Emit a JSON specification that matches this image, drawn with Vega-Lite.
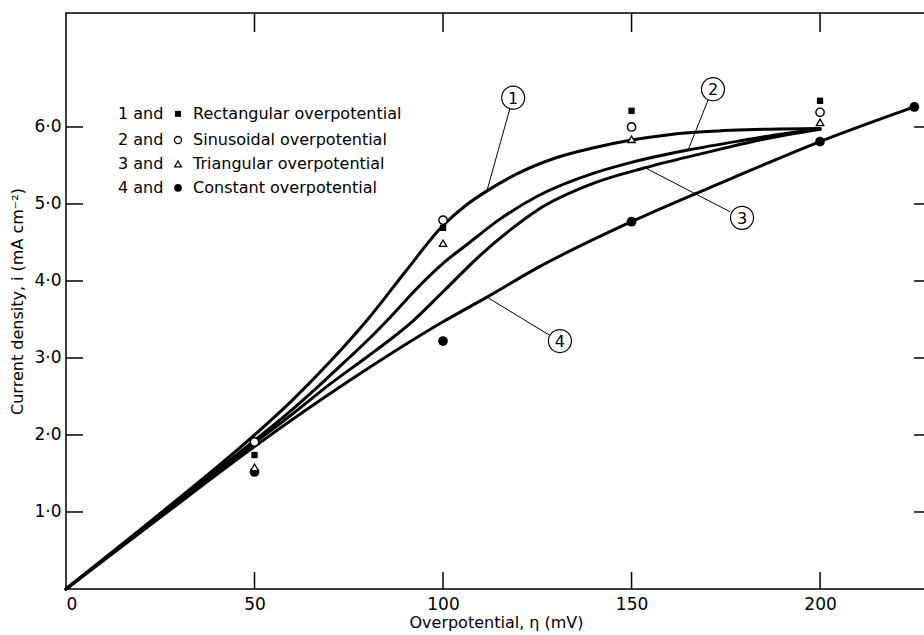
{
  "$schema": "https://vega.github.io/schema/vega-lite/v6.json",
  "width": 860,
  "height": 576,
  "autosize": {"type": "none"},
  "padding": {"left": 66, "top": 13, "right": 0, "bottom": 46},
  "background": "white",
  "config": {
    "view": {"stroke": "black", "strokeWidth": 1.5},
    "font": "DejaVu Sans",
    "text": {"font": "DejaVu Sans", "color": "black"},
    "axis": {"grid": false, "domain": false, "ticks": false, "labelColor": "black", "titleColor": "black", "labelFont": "DejaVu Sans", "titleFont": "DejaVu Sans", "titleFontWeight": "normal"}
  },
  "datasets": {
    "curves": [
      {"c": "1", "eta": 0, "i": 0}, {"c": "1", "eta": 25, "i": 0.98}, {"c": "1", "eta": 50, "i": 2.0}, {"c": "1", "eta": 60, "i": 2.45}, {"c": "1", "eta": 70, "i": 2.95}, {"c": "1", "eta": 80, "i": 3.5}, {"c": "1", "eta": 90, "i": 4.12}, {"c": "1", "eta": 100, "i": 4.72}, {"c": "1", "eta": 106, "i": 4.98}, {"c": "1", "eta": 112, "i": 5.18}, {"c": "1", "eta": 120, "i": 5.4}, {"c": "1", "eta": 130, "i": 5.6}, {"c": "1", "eta": 140, "i": 5.73}, {"c": "1", "eta": 150, "i": 5.83}, {"c": "1", "eta": 160, "i": 5.9}, {"c": "1", "eta": 170, "i": 5.94}, {"c": "1", "eta": 185, "i": 5.97}, {"c": "1", "eta": 200, "i": 5.98},
      {"c": "2", "eta": 0, "i": 0}, {"c": "2", "eta": 25, "i": 0.97}, {"c": "2", "eta": 50, "i": 1.93}, {"c": "2", "eta": 60, "i": 2.33}, {"c": "2", "eta": 68, "i": 2.68}, {"c": "2", "eta": 75, "i": 3.0}, {"c": "2", "eta": 80, "i": 3.23}, {"c": "2", "eta": 86, "i": 3.53}, {"c": "2", "eta": 93, "i": 3.9}, {"c": "2", "eta": 101, "i": 4.27}, {"c": "2", "eta": 106, "i": 4.46}, {"c": "2", "eta": 115, "i": 4.8}, {"c": "2", "eta": 125, "i": 5.1}, {"c": "2", "eta": 140, "i": 5.4}, {"c": "2", "eta": 150, "i": 5.54}, {"c": "2", "eta": 165, "i": 5.7}, {"c": "2", "eta": 180, "i": 5.83}, {"c": "2", "eta": 190, "i": 5.91}, {"c": "2", "eta": 200, "i": 5.97},
      {"c": "3", "eta": 0, "i": 0}, {"c": "3", "eta": 25, "i": 0.96}, {"c": "3", "eta": 50, "i": 1.9}, {"c": "3", "eta": 60, "i": 2.27}, {"c": "3", "eta": 70, "i": 2.66}, {"c": "3", "eta": 80, "i": 3.02}, {"c": "3", "eta": 86, "i": 3.24}, {"c": "3", "eta": 92, "i": 3.48}, {"c": "3", "eta": 100, "i": 3.86}, {"c": "3", "eta": 110, "i": 4.34}, {"c": "3", "eta": 118, "i": 4.67}, {"c": "3", "eta": 125, "i": 4.92}, {"c": "3", "eta": 140, "i": 5.27}, {"c": "3", "eta": 153.6, "i": 5.47}, {"c": "3", "eta": 170, "i": 5.67}, {"c": "3", "eta": 185, "i": 5.84}, {"c": "3", "eta": 200, "i": 5.97},
      {"c": "4", "eta": 0, "i": 0}, {"c": "4", "eta": 25, "i": 0.93}, {"c": "4", "eta": 50, "i": 1.85}, {"c": "4", "eta": 75, "i": 2.7}, {"c": "4", "eta": 100, "i": 3.47}, {"c": "4", "eta": 112, "i": 3.8}, {"c": "4", "eta": 125, "i": 4.17}, {"c": "4", "eta": 150, "i": 4.77}, {"c": "4", "eta": 175, "i": 5.3}, {"c": "4", "eta": 200, "i": 5.81}, {"c": "4", "eta": 225, "i": 6.26}
    ],
    "points": [
      {"kind": "Rectangular", "eta": 50, "i": 1.74}, {"kind": "Rectangular", "eta": 100, "i": 4.69}, {"kind": "Rectangular", "eta": 150, "i": 6.21}, {"kind": "Rectangular", "eta": 200, "i": 6.34},
      {"kind": "Sinusoidal", "eta": 50, "i": 1.91}, {"kind": "Sinusoidal", "eta": 100, "i": 4.79}, {"kind": "Sinusoidal", "eta": 150, "i": 6.0}, {"kind": "Sinusoidal", "eta": 200, "i": 6.19},
      {"kind": "Triangular", "eta": 50, "i": 1.58}, {"kind": "Triangular", "eta": 100, "i": 4.49}, {"kind": "Triangular", "eta": 150, "i": 5.84}, {"kind": "Triangular", "eta": 200, "i": 6.06},
      {"kind": "Constant", "eta": 50, "i": 1.52}, {"kind": "Constant", "eta": 100, "i": 3.22}, {"kind": "Constant", "eta": 150, "i": 4.77}, {"kind": "Constant", "eta": 200, "i": 5.81}, {"kind": "Constant", "eta": 225, "i": 6.26}
    ],
    "xticks": [{"v": 50}, {"v": 100}, {"v": 150}, {"v": 200}],
    "yticks": [{"v": 1}, {"v": 2}, {"v": 3}, {"v": 4}, {"v": 5}, {"v": 6}]
  },
  "layer": [
    {
      "data": {"name": "curves"},
      "mark": {"type": "line", "interpolate": "monotone", "color": "black", "strokeWidth": 3, "strokeCap": "round"},
      "encoding": {
        "x": {"field": "eta", "type": "quantitative", "scale": {"domain": [0, 228.1], "nice": false, "zero": false},
          "axis": {"orient": "bottom", "values": [0, 50, 100, 150, 200], "labelPadding": 7, "labelFontSize": 17, "title": "Overpotential, η (mV)", "titleFontSize": 16, "titlePadding": 2}},
        "y": {"field": "i", "type": "quantitative", "scale": {"domain": [0, 7.48], "nice": false, "zero": false},
          "axis": {"orient": "left", "values": [1, 2, 3, 4, 5, 6], "labelPadding": 5, "labelFontSize": 17, "labelExpr": "replace(format(datum.value, '.1f'), '.', '·')", "title": "Current density, i (mA cm⁻²)", "titleFontSize": 16, "titlePadding": 8}},
        "detail": {"field": "c"}
      }
    },
    {"data": {"name": "xticks"}, "mark": {"type": "rule", "color": "black", "strokeWidth": 1.5},
      "encoding": {"x": {"field": "v", "type": "quantitative"}, "y": {"datum": 0, "type": "quantitative"}, "y2": {"datum": 0.221}}},
    {"data": {"name": "xticks"}, "mark": {"type": "rule", "color": "black", "strokeWidth": 1.5},
      "encoding": {"x": {"field": "v", "type": "quantitative"}, "y": {"datum": 7.48, "type": "quantitative"}, "y2": {"datum": 7.233}}},
    {"data": {"name": "yticks"}, "mark": {"type": "rule", "color": "black", "strokeWidth": 1.5},
      "encoding": {"y": {"field": "v", "type": "quantitative"}, "x": {"datum": 0, "type": "quantitative"}, "x2": {"datum": 4.51}}},
    {"data": {"name": "yticks"}, "mark": {"type": "rule", "color": "black", "strokeWidth": 1.5},
      "encoding": {"y": {"field": "v", "type": "quantitative"}, "x": {"datum": 228.1, "type": "quantitative"}, "x2": {"datum": 224.9}}},
    {
      "data": {"name": "points"},
      "transform": [{"filter": "datum.kind === 'Constant'"}],
      "mark": {"type": "point", "shape": "circle", "filled": true, "color": "black", "size": 95, "opacity": 1},
      "encoding": {"x": {"field": "eta", "type": "quantitative"}, "y": {"field": "i", "type": "quantitative"}}
    },
    {
      "data": {"name": "points"},
      "transform": [{"filter": "datum.kind === 'Rectangular'"}],
      "mark": {"type": "point", "shape": "square", "filled": true, "color": "black", "size": 40, "opacity": 1},
      "encoding": {"x": {"field": "eta", "type": "quantitative"}, "y": {"field": "i", "type": "quantitative"}}
    },
    {
      "data": {"name": "points"},
      "transform": [{"filter": "datum.kind === 'Sinusoidal'"}],
      "mark": {"type": "point", "shape": "circle", "filled": true, "fill": "white", "stroke": "black", "strokeWidth": 1.4, "size": 70, "opacity": 1},
      "encoding": {"x": {"field": "eta", "type": "quantitative"}, "y": {"field": "i", "type": "quantitative"}}
    },
    {
      "data": {"name": "points"},
      "transform": [{"filter": "datum.kind === 'Triangular'"}],
      "mark": {"type": "point", "shape": "triangle-up", "filled": true, "fill": "white", "stroke": "black", "strokeWidth": 1.3, "size": 55, "opacity": 1},
      "encoding": {"x": {"field": "eta", "type": "quantitative"}, "y": {"field": "i", "type": "quantitative"}}
    },
    {"data": {"values": [{}]}, "mark": {"type": "rule", "color": "black", "strokeWidth": 1},
      "encoding": {"x": {"datum": 111.7, "type": "quantitative"}, "y": {"datum": 5.18, "type": "quantitative"}, "x2": {"datum": 117.8}, "y2": {"datum": 6.25}}},
    {"data": {"values": [{}]}, "mark": {"type": "rule", "color": "black", "strokeWidth": 1},
      "encoding": {"x": {"datum": 165, "type": "quantitative"}, "y": {"datum": 5.7, "type": "quantitative"}, "x2": {"datum": 170.3}, "y2": {"datum": 6.35}}},
    {"data": {"values": [{}]}, "mark": {"type": "rule", "color": "black", "strokeWidth": 1},
      "encoding": {"x": {"datum": 153.6, "type": "quantitative"}, "y": {"datum": 5.47, "type": "quantitative"}, "x2": {"datum": 176.1}, "y2": {"datum": 4.9}}},
    {"data": {"values": [{}]}, "mark": {"type": "rule", "color": "black", "strokeWidth": 1},
      "encoding": {"x": {"datum": 112, "type": "quantitative"}, "y": {"datum": 3.78, "type": "quantitative"}, "x2": {"datum": 128.1}, "y2": {"datum": 3.3}}},
    {"data": {"values": [{"n": "1", "e": 118.6, "v": 6.38}, {"n": "2", "e": 171.6, "v": 6.49}, {"n": "3", "e": 179.3, "v": 4.82}, {"n": "4", "e": 131, "v": 3.22}]},
      "layer": [
        {"mark": {"type": "point", "shape": "circle", "filled": true, "fill": "white", "stroke": "black", "strokeWidth": 1.2, "size": 530, "opacity": 1},
          "encoding": {"x": {"field": "e", "type": "quantitative"}, "y": {"field": "v", "type": "quantitative"}}},
        {"mark": {"type": "text", "fontSize": 16, "baseline": "middle", "align": "center", "dy": 1},
          "encoding": {"x": {"field": "e", "type": "quantitative"}, "y": {"field": "v", "type": "quantitative"}, "text": {"field": "n"}}}
      ]
    },
    {"data": {"values": [{}]}, "mark": {"type": "text", "fontSize": 16, "align": "left", "baseline": "middle", "text": "1 and"},
      "encoding": {"x": {"datum": 13.8, "type": "quantitative"}, "y": {"datum": 6.17, "type": "quantitative"}}},
    {"data": {"values": [{}]}, "mark": {"type": "text", "fontSize": 16, "align": "left", "baseline": "middle", "text": "2 and"},
      "encoding": {"x": {"datum": 13.8, "type": "quantitative"}, "y": {"datum": 5.83, "type": "quantitative"}}},
    {"data": {"values": [{}]}, "mark": {"type": "text", "fontSize": 16, "align": "left", "baseline": "middle", "text": "3 and"},
      "encoding": {"x": {"datum": 13.8, "type": "quantitative"}, "y": {"datum": 5.52, "type": "quantitative"}}},
    {"data": {"values": [{}]}, "mark": {"type": "text", "fontSize": 16, "align": "left", "baseline": "middle", "text": "4 and"},
      "encoding": {"x": {"datum": 13.8, "type": "quantitative"}, "y": {"datum": 5.21, "type": "quantitative"}}},
    {"data": {"values": [{}]}, "mark": {"type": "point", "shape": "square", "filled": true, "color": "black", "size": 36, "opacity": 1},
      "encoding": {"x": {"datum": 29.7, "type": "quantitative"}, "y": {"datum": 6.17, "type": "quantitative"}}},
    {"data": {"values": [{}]}, "mark": {"type": "point", "shape": "circle", "filled": true, "fill": "white", "stroke": "black", "strokeWidth": 1.3, "size": 50, "opacity": 1},
      "encoding": {"x": {"datum": 29.7, "type": "quantitative"}, "y": {"datum": 5.83, "type": "quantitative"}}},
    {"data": {"values": [{}]}, "mark": {"type": "point", "shape": "triangle-up", "filled": true, "fill": "white", "stroke": "black", "strokeWidth": 1.2, "size": 45, "opacity": 1},
      "encoding": {"x": {"datum": 29.7, "type": "quantitative"}, "y": {"datum": 5.52, "type": "quantitative"}}},
    {"data": {"values": [{}]}, "mark": {"type": "point", "shape": "circle", "filled": true, "color": "black", "size": 60, "opacity": 1},
      "encoding": {"x": {"datum": 29.7, "type": "quantitative"}, "y": {"datum": 5.21, "type": "quantitative"}}},
    {"data": {"values": [{}]}, "mark": {"type": "text", "fontSize": 16, "align": "left", "baseline": "middle", "text": "Rectangular overpotential"},
      "encoding": {"x": {"datum": 33.7, "type": "quantitative"}, "y": {"datum": 6.17, "type": "quantitative"}}},
    {"data": {"values": [{}]}, "mark": {"type": "text", "fontSize": 16, "align": "left", "baseline": "middle", "text": "Sinusoidal overpotential"},
      "encoding": {"x": {"datum": 33.7, "type": "quantitative"}, "y": {"datum": 5.83, "type": "quantitative"}}},
    {"data": {"values": [{}]}, "mark": {"type": "text", "fontSize": 16, "align": "left", "baseline": "middle", "text": "Triangular overpotential"},
      "encoding": {"x": {"datum": 33.7, "type": "quantitative"}, "y": {"datum": 5.52, "type": "quantitative"}}},
    {"data": {"values": [{}]}, "mark": {"type": "text", "fontSize": 16, "align": "left", "baseline": "middle", "text": "Constant overpotential"},
      "encoding": {"x": {"datum": 33.7, "type": "quantitative"}, "y": {"datum": 5.21, "type": "quantitative"}}}
  ]
}
